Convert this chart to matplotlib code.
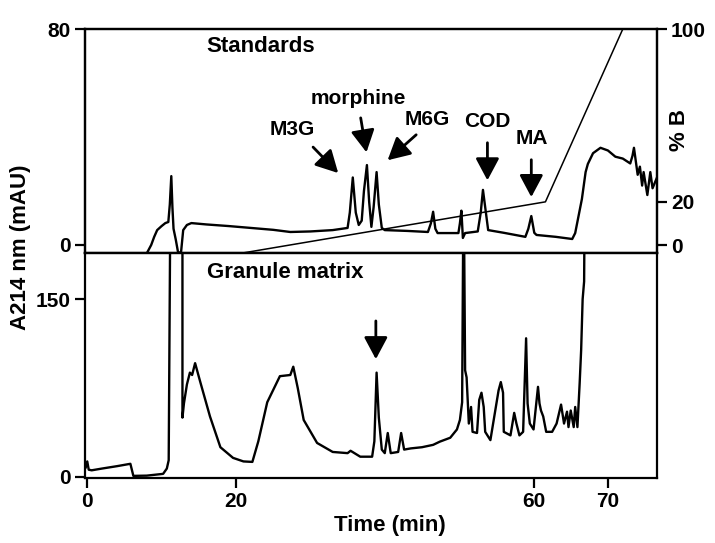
#!/usr/bin/env python3
"""Chromatograms: standards vs granule matrix, A214 nm, with %B gradient"""

import matplotlib
matplotlib.use('Agg')
import matplotlib.pyplot as plt

plt.rcParams['font.family'] = ['Liberation Sans', 'DejaVu Sans']
plt.rcParams['font.weight'] = 'bold'

# standards trace (time in min, A214 in mAU)
std_time = [8.1, 8.6, 9.0, 9.4, 10.0, 10.5, 10.9, 11.1, 11.3, 11.45, 11.6, 11.9,
            12.2, 12.6, 12.9, 13.4, 14.0, 16, 19, 22, 25, 27.3, 30, 33, 35.0,
            35.3, 35.7, 36.1, 36.5, 36.9, 37.2, 37.6, 37.9, 38.2, 38.5, 38.9,
            39.2, 39.6, 40, 43, 45.8, 46.2, 46.5, 46.8, 47.1, 49.9, 50.1, 50.3,
            50.5, 50.8, 52.5, 52.9, 53.2, 53.5, 53.9, 56, 58.9, 59.3, 59.7,
            60.1, 60.4, 63, 65.2, 65.6, 66.5, 67.0, 67.3, 68, 69, 70, 71, 72,
            73.0, 73.3, 73.5, 74.0, 74.3, 74.6, 74.8, 75.3, 75.7, 76.0, 76.6]
std_mau = [-2.6, 0, 3, 5.5, 7, 8.1, 8.5, 15, 25.5, 14, 6, 2,
           -2.6, -3, 5.5, 7.4, 8.1, 7.6, 7.0, 6.3, 5.6, 4.8, 5.0, 5.5, 6.3,
           12, 25, 12, 7.4, 9, 20, 29.6, 16, 6.7, 14, 27,
           15, 6.3, 5.5, 5.2, 4.8, 8, 12.3, 6, 4.4, 4.4, 8, 12.7,
           2.6, 4.4, 5, 12, 20.4, 14, 5.5, 4.5, 3, 6, 10.7,
           4.5, 3.7, 3, 2.2, 4.4, 17, 27, 30, 34, 36, 35, 32.7, 32,
           30.2, 33, 36, 26, 29, 22, 27, 18.5, 27, 21, 25]

# granule matrix trace
gran_time = [-0.2, 0.0, 0.2, 0.6, 2, 4, 5.8, 6.2, 8, 10.2, 10.7, 10.95, 11.2,
             12.8, 12.8, 13.0, 13.4, 13.8, 14.1, 14.5, 15.2, 16.5, 17.9, 19.6,
             21.0, 22.2, 23.0, 24.2, 25.9, 27.3, 27.7, 28.3, 29.1, 30.9, 33,
             35.0, 35.4, 36.7, 38.3, 38.6, 38.9, 39.2, 39.6, 40.0, 40.4, 40.8,
             41.8, 42.2, 42.6, 43.5, 45, 46.5, 47.4, 48.8, 49.7, 50.1, 50.4,
             50.5, 50.6, 50.8, 51.0, 51.3, 51.6, 51.8, 52.4, 52.7, 53.0, 53.3,
             53.5, 54.2, 55.3, 55.6, 55.9, 56.0, 56.9, 57.4, 57.7, 58.1, 58.6,
             59.0, 59.2, 59.5, 60.0, 60.6, 60.8, 61.0, 61.3, 61.7, 62.5, 63.1,
             63.7, 64.1, 64.5, 64.7, 65.0, 65.4, 65.6, 65.9, 66.2, 66.4, 66.6,
             66.8, 66.9]
gran_mau = [8, 13, 6, 5.5, 7, 9, 11, 0.8, 1, 2.5, 7, 14, 260,
            260, 50, 62, 78, 88, 86, 96, 80, 51, 25, 16,
            13, 12.6, 30, 63, 85, 86, 93, 75, 48, 28.6, 21,
            20, 22, 17, 17, 30, 88, 50, 23, 20, 37, 20,
            21, 37, 23, 24, 25, 27, 29.7, 33, 40, 48, 63,
            166, 260, 90, 84, 45, 59, 38, 37, 65, 71, 59,
            38, 31, 73, 80, 71, 38, 35, 54, 45, 35, 38,
            117, 62, 45, 40, 76, 62, 56, 51, 38, 38, 45,
            61, 45, 55, 42, 56, 42, 59, 42, 79, 107, 150,
            165, 260]

# solvent gradient (% B)
grad_time = [21.2, 61.6, 72.0]
grad_pct = [-3.5, 20, 100]

# peak labels: name, text pos, arrow tail, arrow head (time, mAU)
peak_names = ['M3G', 'morphine', 'M6G', 'COD', 'MA']
peak_text = [(27.5, 42.6), (36.4, 54.4), (45.7, 46.3), (53.8, 45.6), (59.8, 39.3)]
peak_tail = [(30.1, 37.0), (36.7, 48.1), (44.5, 41.5), (53.8, 38.9), (59.7, 32.6)]
peak_head = [(34.0, 25.9), (37.6, 33.3), (40.1, 30.7), (53.8, 22.9), (59.7, 16.7)]

xticks = [0, 20, 60, 70]


def main():
    fig = plt.figure(figsize=(7.15, 5.43), dpi=100)
    ax_top = fig.add_axes([0.1189, 0.534, 0.80, 0.4125])
    ax_bot = fig.add_axes([0.1189, 0.1197, 0.80, 0.4143])

    lw_spine = 1.6
    arrow_kw = dict(arrowstyle='-|>,head_length=0.75,head_width=0.4',
                    color='black', lw=2.0, mutation_scale=18)

    # top panel: standards
    ax_top.plot(std_time, std_mau, color='black', lw=1.7)
    ax_top.set_xlim(-0.3, 76.6)
    ax_top.set_ylim(-3, 80)
    ax_top.set_yticks([0, 80])
    ax_top.set_xticks([])
    ax_top.text(23.3, 73.4, 'Standards', fontsize=16, fontweight='bold',
                ha='center', va='center')
    for name, tp, tail, head in zip(peak_names, peak_text, peak_tail, peak_head):
        ax_top.text(tp[0], tp[1], name, fontsize=15, fontweight='bold',
                    ha='center', va='center')
        ax_top.annotate('', xy=head, xytext=tail, arrowprops=arrow_kw)

    ax_b = ax_top.twinx()
    ax_b.plot(grad_time, grad_pct, color='black', lw=1.1)
    ax_b.set_ylim(-3.7, 100)
    ax_b.set_yticks([0, 20, 100])

    # bottom panel: granule matrix
    ax_bot.plot(gran_time, gran_mau, color='black', lw=1.7)
    ax_bot.set_xlim(-0.3, 76.6)
    ax_bot.set_ylim(-1, 189)
    ax_bot.set_yticks([0, 150])
    ax_bot.set_xticks(xticks)
    ax_bot.text(26.6, 172.7, 'Granule matrix', fontsize=16, fontweight='bold',
                ha='center', va='center')
    ax_bot.annotate('', xy=(38.8, 97), xytext=(38.8, 134), arrowprops=arrow_kw)

    for ax in (ax_top, ax_b, ax_bot):
        for sp in ax.spines.values():
            sp.set_linewidth(lw_spine)
        ax.tick_params(direction='out', length=7, width=1.6, labelsize=15, pad=3)
        for lab in ax.get_xticklabels() + ax.get_yticklabels():
            lab.set_fontweight('bold')

    fig.text(0.028, 0.545, 'A214 nm (mAU)', rotation=90, fontsize=16,
             fontweight='bold', ha='center', va='center')
    fig.text(0.545, 0.032, 'Time (min)', fontsize=16, fontweight='bold',
             ha='center', va='center')
    fig.text(0.951, 0.76, '% B', rotation=90, fontsize=16, fontweight='bold',
             ha='center', va='center')

    fig.savefig('out.png', dpi=100)
    plt.close('all')


if __name__ == '__main__':
    main()
